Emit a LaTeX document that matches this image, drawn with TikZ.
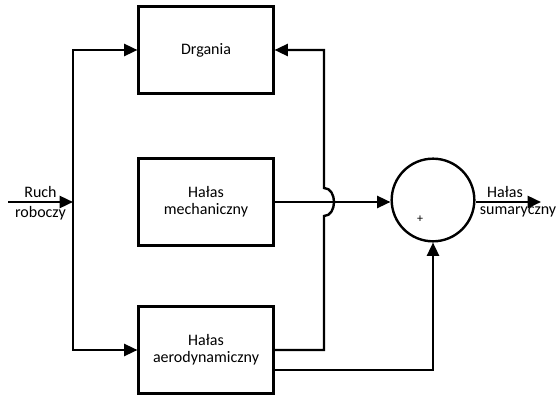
\documentclass[tikz,border=0pt]{standalone}
\usepackage{fontspec}
\setmainfont{Carlito}
\usepackage{tikz}
\usetikzlibrary{arrows.meta}

\begin{document}
\begin{tikzpicture}[x=0.75pt, y=-0.75pt, line width=1.8pt,
    font=\fontsize{12}{13}\selectfont,
    box/.style={draw, rectangle, align=center, minimum width=101pt, minimum height=65pt},
    arr/.style={-{Triangle[length=10pt, width=9pt]}},
    lbl/.style={inner sep=2.5pt}]
      \useasboundingbox (0,0) rectangle (559,398);
      \node [box] (drg) at (206,50) {Drgania};
      \node [box] (mech) at (206,202) {Hałas\\mechaniczny};
      \node [box] (aero) at (206,350) {Hałas\\aerodynamiczny};
      \node [draw, circle, minimum size=62pt, inner sep=0] (sum) at (433,200) {};
      \node [font=\small, inner sep=0] (plus) at (420,219) {+};
      \coordinate (in) at (8,202);
      \coordinate (bus) at (73,202);
      \coordinate (out) at (541,202);
      \coordinate (hopB) at (324,216);
      \coordinate (hopT) at (324,188);
      \draw [arr] (in) -- node[above, lbl] {Ruch} node[below, lbl] {roboczy} (bus);
      \draw [arr] (bus) |- (drg.west);
      \draw [arr] (bus) |- (aero.west);
      \draw [arr] (aero.east) -| (hopB) to[out=0, in=-90] (334,202) to[out=90, in=0] (hopT) |- (drg.east);
      \draw [arr] (mech.east) -- (mech.east -| sum.west);
      \draw [arr] ([yshift=-15pt]aero.east) -| (sum.south);
      \draw [arr] (mech.east -| sum.east) -- node[pos=0.45, above, lbl] {Hałas} node[pos=0.65, below, lbl] {sumaryczny} (out);
    \end{tikzpicture}
\end{document}
